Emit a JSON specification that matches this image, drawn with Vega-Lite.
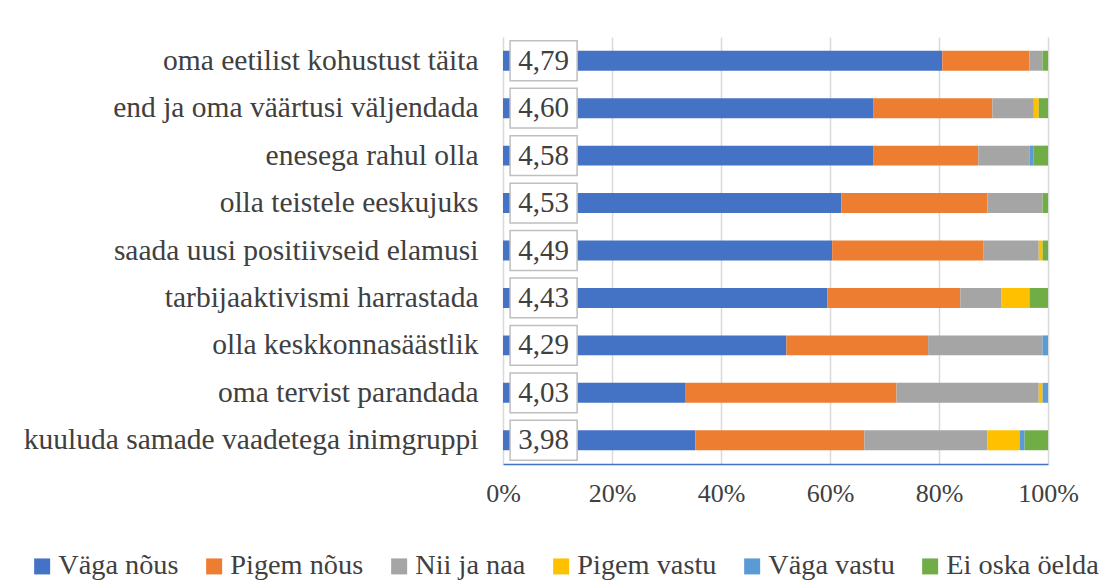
{
  "$schema": "https://vega.github.io/schema/vega-lite/v6.json",
  "width": 545,
  "height": 427,
  "autosize": {"type": "none"},
  "padding": {"left": 503, "top": 37, "right": 59, "bottom": 123},
  "background": "white",
  "config": {"font": "Liberation Serif", "view": {"stroke": null}},
  "datasets": {
    "bars": [
      {"item": "oma eetilist kohustust täita", "cat": "Väga nõus", "pct": 80.6},
      {"item": "oma eetilist kohustust täita", "cat": "Pigem nõus", "pct": 16.0},
      {"item": "oma eetilist kohustust täita", "cat": "Nii ja naa", "pct": 2.4},
      {"item": "oma eetilist kohustust täita", "cat": "Ei oska öelda", "pct": 1.0},
      {"item": "end ja oma väärtusi väljendada", "cat": "Väga nõus", "pct": 68.0},
      {"item": "end ja oma väärtusi väljendada", "cat": "Pigem nõus", "pct": 21.8},
      {"item": "end ja oma väärtusi väljendada", "cat": "Nii ja naa", "pct": 7.6},
      {"item": "end ja oma väärtusi väljendada", "cat": "Pigem vastu", "pct": 0.9},
      {"item": "end ja oma väärtusi väljendada", "cat": "Ei oska öelda", "pct": 1.7},
      {"item": "enesega rahul olla", "cat": "Väga nõus", "pct": 68.0},
      {"item": "enesega rahul olla", "cat": "Pigem nõus", "pct": 19.2},
      {"item": "enesega rahul olla", "cat": "Nii ja naa", "pct": 9.4},
      {"item": "enesega rahul olla", "cat": "Väga vastu", "pct": 0.7},
      {"item": "enesega rahul olla", "cat": "Ei oska öelda", "pct": 2.7},
      {"item": "olla teistele eeskujuks", "cat": "Väga nõus", "pct": 62.1},
      {"item": "olla teistele eeskujuks", "cat": "Pigem nõus", "pct": 26.8},
      {"item": "olla teistele eeskujuks", "cat": "Nii ja naa", "pct": 10.1},
      {"item": "olla teistele eeskujuks", "cat": "Ei oska öelda", "pct": 1.0},
      {"item": "saada uusi positiivseid elamusi", "cat": "Väga nõus", "pct": 60.4},
      {"item": "saada uusi positiivseid elamusi", "cat": "Pigem nõus", "pct": 27.8},
      {"item": "saada uusi positiivseid elamusi", "cat": "Nii ja naa", "pct": 10.1},
      {"item": "saada uusi positiivseid elamusi", "cat": "Pigem vastu", "pct": 0.7},
      {"item": "saada uusi positiivseid elamusi", "cat": "Ei oska öelda", "pct": 1.0},
      {"item": "tarbijaaktivismi harrastada", "cat": "Väga nõus", "pct": 59.5},
      {"item": "tarbijaaktivismi harrastada", "cat": "Pigem nõus", "pct": 24.4},
      {"item": "tarbijaaktivismi harrastada", "cat": "Nii ja naa", "pct": 7.5},
      {"item": "tarbijaaktivismi harrastada", "cat": "Pigem vastu", "pct": 5.2},
      {"item": "tarbijaaktivismi harrastada", "cat": "Ei oska öelda", "pct": 3.4},
      {"item": "olla keskkonnasäästlik", "cat": "Väga nõus", "pct": 52.0},
      {"item": "olla keskkonnasäästlik", "cat": "Pigem nõus", "pct": 26.0},
      {"item": "olla keskkonnasäästlik", "cat": "Nii ja naa", "pct": 21.0},
      {"item": "olla keskkonnasäästlik", "cat": "Väga vastu", "pct": 1.0},
      {"item": "oma tervist parandada", "cat": "Väga nõus", "pct": 33.4},
      {"item": "oma tervist parandada", "cat": "Pigem nõus", "pct": 38.8},
      {"item": "oma tervist parandada", "cat": "Nii ja naa", "pct": 26.1},
      {"item": "oma tervist parandada", "cat": "Pigem vastu", "pct": 0.7},
      {"item": "oma tervist parandada", "cat": "Väga vastu", "pct": 1.0},
      {"item": "kuuluda samade vaadetega inimgruppi", "cat": "Väga nõus", "pct": 35.3},
      {"item": "kuuluda samade vaadetega inimgruppi", "cat": "Pigem nõus", "pct": 31.0},
      {"item": "kuuluda samade vaadetega inimgruppi", "cat": "Nii ja naa", "pct": 22.6},
      {"item": "kuuluda samade vaadetega inimgruppi", "cat": "Pigem vastu", "pct": 5.9},
      {"item": "kuuluda samade vaadetega inimgruppi", "cat": "Väga vastu", "pct": 0.9},
      {"item": "kuuluda samade vaadetega inimgruppi", "cat": "Ei oska öelda", "pct": 4.3}
    ],
    "means": [
      {"item": "oma eetilist kohustust täita", "mean": "4,79"},
      {"item": "end ja oma väärtusi väljendada", "mean": "4,60"},
      {"item": "enesega rahul olla", "mean": "4,58"},
      {"item": "olla teistele eeskujuks", "mean": "4,53"},
      {"item": "saada uusi positiivseid elamusi", "mean": "4,49"},
      {"item": "tarbijaaktivismi harrastada", "mean": "4,43"},
      {"item": "olla keskkonnasäästlik", "mean": "4,29"},
      {"item": "oma tervist parandada", "mean": "4,03"},
      {"item": "kuuluda samade vaadetega inimgruppi", "mean": "3,98"}
    ]
  },
  "layer": [
    {
      "data": {"name": "bars"},
      "transform": [
        {"calculate": "indexof(['Väga nõus', 'Pigem nõus', 'Nii ja naa', 'Pigem vastu', 'Väga vastu', 'Ei oska öelda'], datum.cat)", "as": "catOrder"}
      ],
      "mark": {"type": "bar"},
      "encoding": {
        "y": {
          "field": "item", "type": "nominal",
          "sort": ["oma eetilist kohustust täita", "end ja oma väärtusi väljendada", "enesega rahul olla", "olla teistele eeskujuks", "saada uusi positiivseid elamusi", "tarbijaaktivismi harrastada", "olla keskkonnasäästlik", "oma tervist parandada", "kuuluda samade vaadetega inimgruppi"],
          "scale": {"paddingInner": 0.58, "paddingOuter": 0.29},
          "axis": {"title": null, "domain": false, "ticks": false, "labelFontSize": 29.5, "labelColor": "#404040", "labelPadding": 25, "labelLimit": 500}
        },
        "x": {
          "field": "pct", "type": "quantitative", "stack": "normalize",
          "scale": {"domain": [0, 1]},
          "axis": {"title": null, "format": ".0%", "values": [0, 0.2, 0.4, 0.6, 0.8, 1], "labelFontSize": 26, "labelColor": "#404040", "labelPadding": 16, "ticks": false, "grid": true, "gridColor": "#D9D9D9", "gridWidth": 1.5, "domainColor": "#4472C4", "domainWidth": 1.5, "labelFlush": false}
        },
        "order": {"field": "catOrder", "type": "quantitative", "sort": "ascending"},
        "color": {
          "field": "cat", "type": "nominal",
          "sort": ["Väga nõus", "Pigem nõus", "Nii ja naa", "Pigem vastu", "Väga vastu", "Ei oska öelda"],
          "scale": {"domain": ["Väga nõus", "Pigem nõus", "Nii ja naa", "Pigem vastu", "Väga vastu", "Ei oska öelda"], "range": ["#4472C4", "#ED7D31", "#A5A5A5", "#FFC000", "#5B9BD5", "#70AD47"]},
          "legend": {"title": null, "orient": "none", "legendX": -475, "legendY": 515, "direction": "horizontal", "columns": 6, "symbolType": "square", "symbolSize": 256, "symbolStrokeWidth": 0, "labelFontSize": 28.3, "labelColor": "#404040", "columnPadding": 21, "labelOffset": 2, "labelLimit": 300}
        }
      }
    },
    {
      "data": {"name": "means"},
      "mark": {"type": "bar", "height": {"band": 2}, "fill": "white", "stroke": "#BFBFBF", "strokeWidth": 1.5},
      "encoding": {
        "y": {"field": "item", "type": "nominal", "sort": ["oma eetilist kohustust täita", "end ja oma väärtusi väljendada", "enesega rahul olla", "olla teistele eeskujuks", "saada uusi positiivseid elamusi", "tarbijaaktivismi harrastada", "olla keskkonnasäästlik", "oma tervist parandada", "kuuluda samade vaadetega inimgruppi"]},
        "x": {"datum": 0.013, "type": "quantitative"},
        "x2": {"datum": 0.136}
      }
    },
    {
      "data": {"name": "means"},
      "mark": {"type": "text", "fontSize": 29, "color": "#404040"},
      "encoding": {
        "y": {"field": "item", "type": "nominal", "sort": ["oma eetilist kohustust täita", "end ja oma väärtusi väljendada", "enesega rahul olla", "olla teistele eeskujuks", "saada uusi positiivseid elamusi", "tarbijaaktivismi harrastada", "olla keskkonnasäästlik", "oma tervist parandada", "kuuluda samade vaadetega inimgruppi"]},
        "x": {"datum": 0.0745, "type": "quantitative"},
        "text": {"field": "mean"}
      }
    }
  ]
}
